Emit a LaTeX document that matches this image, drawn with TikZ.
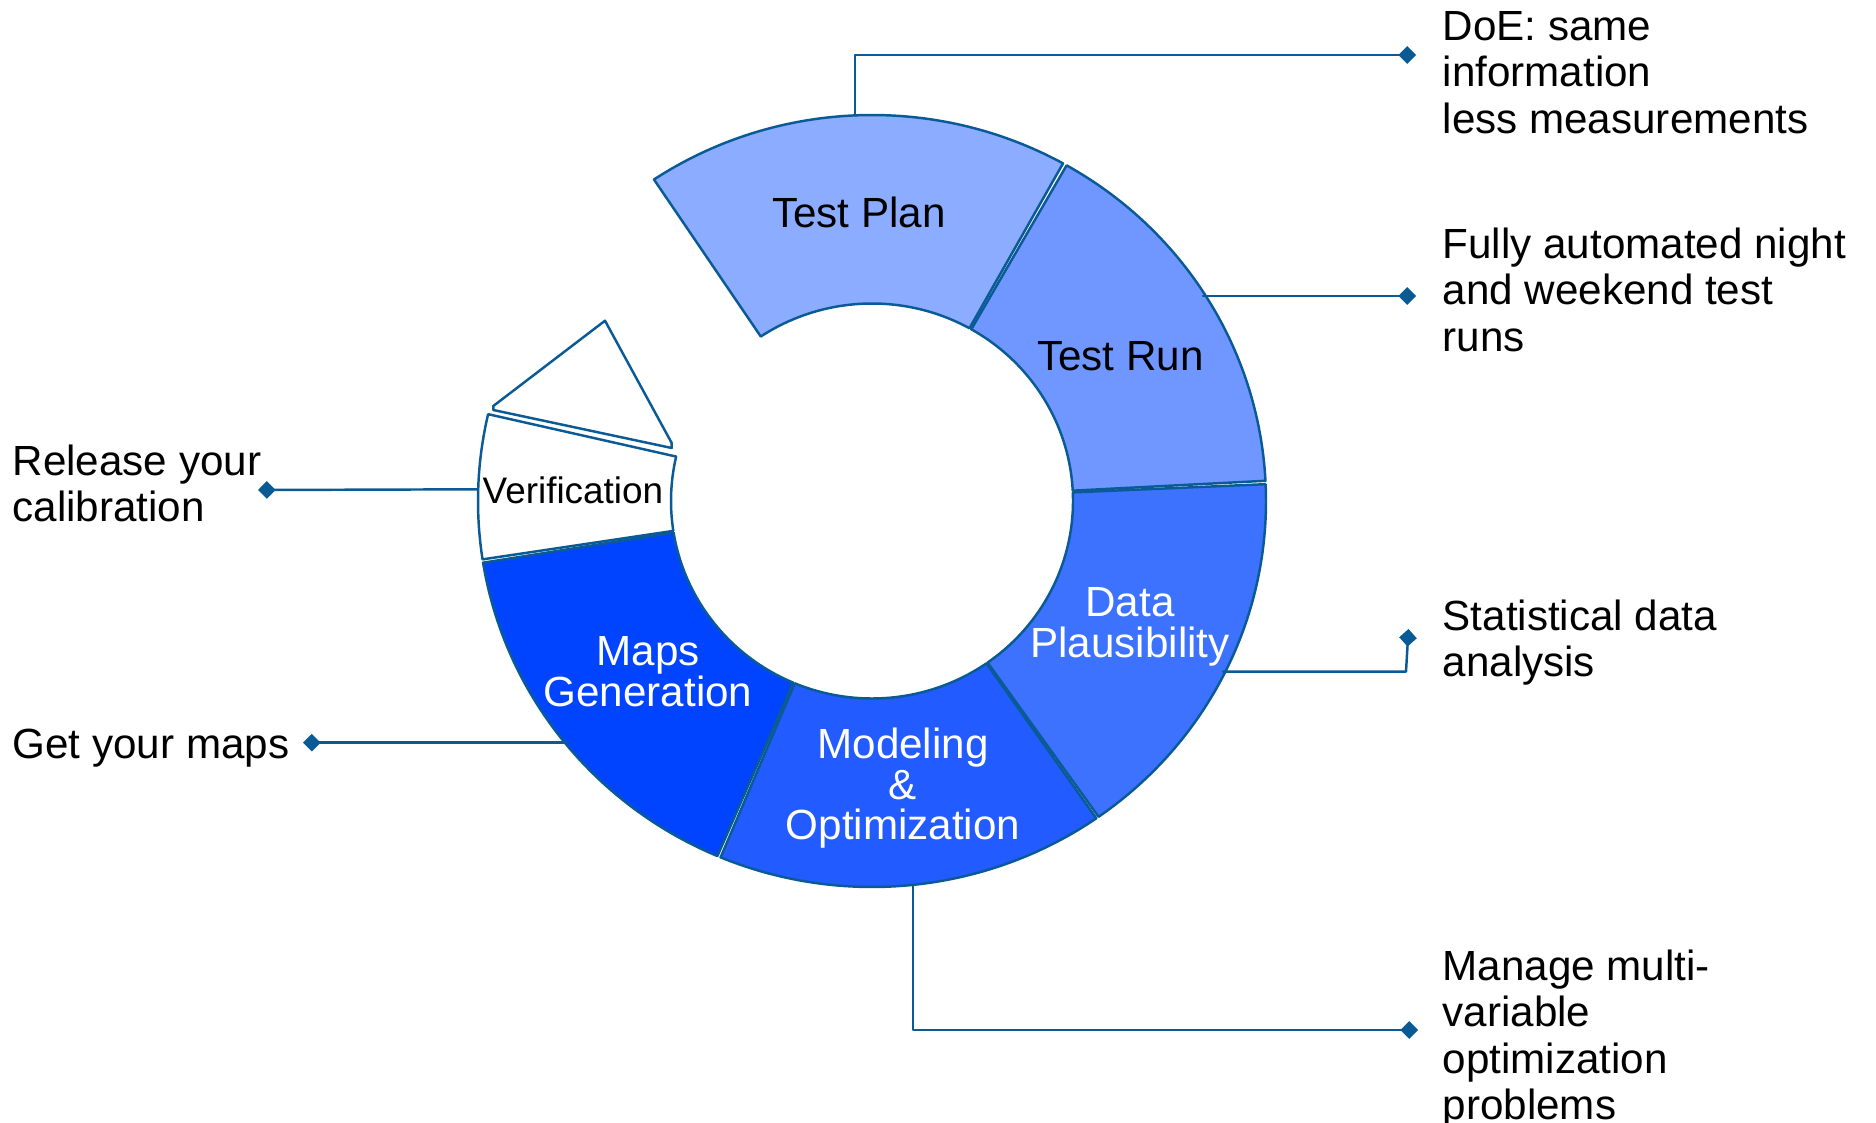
\documentclass[tikz,border=0pt]{standalone}
\usepackage{fontspec}
\setmainfont{Liberation Sans}
\usetikzlibrary{arrows.meta}
\definecolor{rim}{RGB}{10,90,150}
\definecolor{planblue}{RGB}{139,172,255}
\definecolor{runblue}{RGB}{111,151,255}
\definecolor{datablue}{RGB}{61,114,255}
\definecolor{modelblue}{RGB}{34,91,255}
\definecolor{mapsblue}{RGB}{0,68,255}
\begin{document}
\begin{tikzpicture}[line join=round,line cap=round,font=\fontsize{12}{13.2}\selectfont,
	ring/.style={draw=rim,line width=0.7pt},
	ro/.style={x radius=3.94,y radius=3.86},
	ri/.style={x radius=2.01,y radius=1.975},
	pin/.style={draw=rim,line width=0.7pt,-{Diamond[length=5pt,width=5pt]}},
	note/.style={anchor=north west,align=left,inner sep=0pt},
	inlabel/.style={align=center,inner sep=0pt,font=\fontsize{12}{11.6}\selectfont}]
	\useasboundingbox (0,0) rectangle (18.76,-11.23);
	\begin{scope}[shift={(8.72,-5.01)}]
		\draw[ring,fill=planblue] (61:3.94 and 3.86) arc[ro,start angle=61,end angle=123.6]--(123.6:2.01 and 1.975) arc[ri,start angle=123.6,end angle=61]--cycle; %%% Test Plan
		\draw[ring,fill=runblue] (3:3.94 and 3.86) arc[ro,start angle=3,end angle=60.4]--(60.4:2.01 and 1.975) arc[ri,start angle=60.4,end angle=3]--cycle; %%% Test Run
		\draw[ring,fill=datablue] (-54.9:3.94 and 3.86) arc[ro,start angle=-54.9,end angle=2.5]--(2.5:2.01 and 1.975) arc[ri,start angle=2.5,end angle=-54.9]--cycle; %%% Data
		\draw[ring,fill=modelblue] (-112.6:3.94 and 3.86) arc[ro,start angle=-112.6,end angle=-55.3]--(-55.3:2.01 and 1.975) arc[ri,start angle=-55.3,end angle=-112.6]--cycle; %%% Modeling
		\draw[ring,fill=mapsblue] (189.2:3.94 and 3.86) arc[ro,start angle=189.2,end angle=246.9]--(246.9:2.01 and 1.975) arc[ri,start angle=246.9,end angle=189.2]--cycle; %%% Maps
		\draw[ring,fill=white] (167:3.94 and 3.86) arc[ro,start angle=167,end angle=188.7]--(188.7:2.01 and 1.975) arc[ri,start angle=188.7,end angle=167]--cycle; %%% Verification
	\end{scope}
	\draw[ring,fill=white] (4.933,-4.10)--(4.933,-4.06)--(6.05,-3.207)--(6.717,-4.43)--(6.717,-4.48)--cycle; %%% arrow head
	%%% labels in the ring
	\node[inlabel,anchor=base] (plan) at (8.59,-2.27) {Test Plan};
	\node[inlabel,anchor=base] (run) at (11.205,-3.70) {Test Run};
	\node[inlabel,anchor=north,text=white] (data) at (11.30,-5.87) {Data\\Plausibility};
	\node[inlabel,anchor=north,text=white] (model) at (9.03,-7.27) {Modeling\\\&\\Optimization};
	\node[inlabel,anchor=north,text=white] (maps) at (6.48,-6.36) {Maps\\Generation};
	\node[inlabel,anchor=base west,font=\fontsize{10.5}{12}\selectfont] (verif) at (4.82,-5.03) {Verification};
	%%% notes
	\node[note] (doe) at (14.42,-0.105) {DoE: same\\information\\less measurements};
	\node[note] (fully) at (14.42,-2.27) {Fully automated night\\and weekend test\\runs};
	\node[note] (stat) at (14.42,-5.99) {Statistical data\\analysis};
	\node[note] (manage) at (14.42,-9.49) {Manage multi-\\variable\\optimization\\problems};
	\node[note] (release) at (0.12,-4.44) {Release your\\calibration};
	\node[note] (getmaps) at (0.12,-7.28) {Get your maps};
	%%% connectors
	\coordinate (planTop) at (8.55,-1.154);
	\coordinate (doePin) at (14.16,-0.55);
	\coordinate (runEdge) at (12.03,-2.96);
	\coordinate (runPin) at (14.16,-2.96);
	\coordinate (dataEdge) at (12.23,-6.717);
	\coordinate (statPin) at (14.085,-6.29);
	\coordinate (modelEdge) at (9.13,-8.849);
	\coordinate (managePin) at (14.18,-10.30);
	\coordinate (verEdge) at (4.78,-4.893);
	\coordinate (releasePin) at (2.58,-4.90);
	\coordinate (mapsEdge) at (5.67,-7.427);
	\coordinate (getPin) at (3.03,-7.427);
	\draw[pin] (planTop) |- (doePin);
	\draw[pin] (runEdge)--(runPin);
	\draw[pin] (dataEdge)--(14.06,-6.717)--(statPin);
	\draw[pin] (modelEdge) |- (managePin);
	\draw[pin] (verEdge)--(releasePin);
	\draw[pin] (mapsEdge)--(getPin);
\end{tikzpicture}
\end{document}
